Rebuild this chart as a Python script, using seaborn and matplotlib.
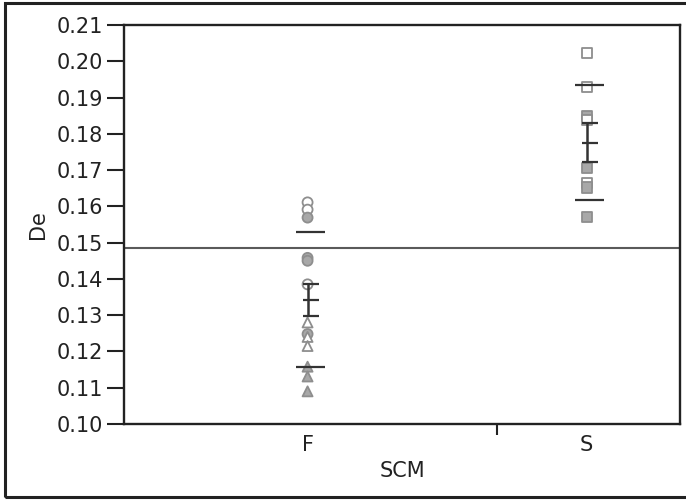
import numpy as np
import pandas as pd
import matplotlib
matplotlib.use("Agg")
import matplotlib.pyplot as plt
from matplotlib.patches import Rectangle
import seaborn as sns

# ---- data ----
scm = ["F", "S"]
f_values = [0.1611, 0.1591, 0.1569, 0.1458, 0.1450, 0.1385, 0.1248,
            0.1280, 0.1240, 0.1215, 0.1158, 0.1131, 0.1090]
f_shapes = ["circle"] * 7 + ["triangle"] * 6
f_fill = ["hollow", "hollow", "filled", "filled", "filled", "hollow", "filled",
          "hollow", "hollow", "hollow", "filled", "filled", "filled"]
s_values = [0.2022, 0.1930, 0.1848, 0.1838, 0.1705, 0.1665, 0.1652, 0.1572]
s_shapes = ["square"] * 8
s_fill = ["hollow", "hollow", "filled", "hollow", "filled", "hollow", "filled", "filled"]

group_means = [0.1343, 0.1776]
group_sd = [0.0187, 0.0159]
group_se = [0.0044, 0.0053]
grand_mean = 0.1486

y_ticks = [0.10, 0.11, 0.12, 0.13, 0.14, 0.15, 0.16, 0.17, 0.18, 0.19, 0.20, 0.21]

df = pd.DataFrame({
    "SCM": ["F"] * len(f_values) + ["S"] * len(s_values),
    "De": f_values + s_values,
    "shape": f_shapes + s_shapes,
    "fill": f_fill + s_fill,
})

sns.set_style("white")
plt.rcParams["font.family"] = ["DejaVu Sans"]

fig = plt.figure(figsize=(6.86, 5.0), dpi=100)
ax = fig.add_axes([124 / 686, 76 / 500, (680 - 124) / 686, 399 / 500])

line_col = "#333333"
ax.axhline(grand_mean, color="#5a5a5a", lw=1.5, zorder=1)

sns.scatterplot(data=df, x="SCM", y="De", hue="fill", style="shape",
                palette={"filled": "#a8a8a8", "hollow": "white"},
                markers={"circle": "o", "triangle": "^", "square": "s"},
                edgecolor="#8e8e8e", linewidth=1.3, s=52, legend=False,
                ax=ax, zorder=3)

pos = np.arange(len(scm)) + 0.012
means = np.array(group_means)
sds = np.array(group_sd)
ses = np.array(group_se)
ax.hlines(means + sds, pos - 0.052, pos + 0.052, color=line_col, lw=1.6, zorder=4)
ax.hlines(means - sds, pos - 0.052, pos + 0.052, color=line_col, lw=1.6, zorder=4)
ax.hlines(means, pos - 0.03, pos + 0.03, color=line_col, lw=1.6, zorder=4)
ax.hlines(means + ses, pos - 0.03, pos + 0.03, color=line_col, lw=1.6, zorder=4)
ax.hlines(means - ses, pos - 0.03, pos + 0.03, color=line_col, lw=1.6, zorder=4)
ax.vlines(pos - 0.012, means - ses, means + ses, color=line_col, lw=1.8, zorder=4)

ax.set_ylim(0.10, 0.21)
ax.set_xlim(-0.658, 1.335)
ax.set_yticks(y_ticks)
ax.set_yticklabels([f"{t:.2f}" for t in y_ticks])
ax.set_xticks([0, 1])
ax.set_xticklabels(scm)
ax.set_xticks([0.679], minor=True)
ax.tick_params(axis="y", direction="out", length=12, width=1.5, pad=3,
               labelsize=15, colors="#222222", left=True)
ax.tick_params(axis="x", which="major", length=0, pad=8, labelsize=15,
               colors="#222222", bottom=True)
ax.tick_params(axis="x", which="minor", direction="out", length=8, width=1.5,
               color="#222222", bottom=True)
ax.set_ylabel("De", fontsize=15, color="#222222", labelpad=6)
ax.set_xlabel("SCM", fontsize=15, color="#222222", labelpad=4)

for sp in ax.spines.values():
    sp.set_visible(True)
    sp.set_color("#222222")
    sp.set_linewidth(1.7)

fig.patches.append(Rectangle((5 / 686, 3 / 500), 700 / 686, 494 / 500,
                             transform=fig.transFigure, fill=False,
                             edgecolor="#222222", lw=2.2))

fig.savefig("out.png", dpi=100)
